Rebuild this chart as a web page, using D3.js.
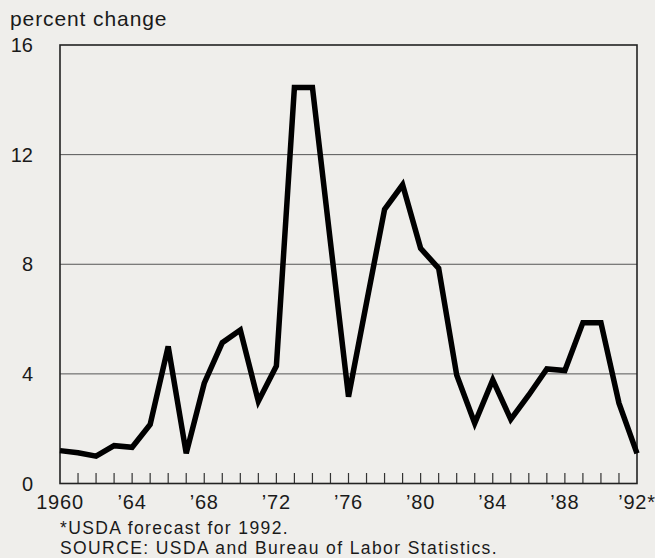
<!DOCTYPE html>
<html>
<head>
<meta charset="utf-8">
<script src="https://cdn.jsdelivr.net/npm/d3@7"></script>
<style>
  html, body { margin: 0; padding: 0; background: #efeeeb; }
  svg { display: block; }
  text { font-family: "Liberation Sans", Arial, Helvetica, sans-serif; fill: #1a1a1a; }
</style>
</head>
<body>
<svg id="chart" width="655" height="558"></svg>
<script>
const years = d3.range(1960, 1993);
const values = [1.2, 1.12, 1.0, 1.38, 1.32, 2.15, 5.0, 1.1, 3.66, 5.14, 5.6, 3.0, 4.29, 14.45, 14.45, 8.8, 3.17, 6.6, 10.0, 10.9, 8.58, 7.85, 3.96, 2.2, 3.78, 2.34, 3.23, 4.18, 4.12, 5.87, 5.87, 2.93, 1.1];
const yTicks = [0, 4, 8, 12, 16];
const xLabelYears = [1960, 1964, 1968, 1972, 1976, 1980, 1984, 1988, 1992];
const xLabels = ["1960", "\u201964", "\u201968", "\u201972", "\u201976", "\u201980", "\u201984", "\u201988", "\u201992*"];
const yTitle = "percent change";
const notes = ["*USDA forecast for 1992.", "SOURCE: USDA and Bureau of Labor Statistics."];

const svg = d3.select("#chart");
const mLeft = 60, mRight = 637, mTop = 45, mBottom = 483.5;
const x = d3.scaleLinear().domain([1960, 1992]).range([mLeft, mRight]);
const y = d3.scaleLinear().domain([0, 16]).range([mBottom, mTop]);

// gridlines
svg.append("g").selectAll("line").data(yTicks.filter(d => d > 0 && d < 16)).join("line")
  .attr("x1", mLeft).attr("x2", mRight)
  .attr("y1", d => y(d)).attr("y2", d => y(d))
  .attr("stroke", "#555").attr("stroke-width", 1);

// year ticks (inside, upward)
svg.append("g").selectAll("line").data(years.slice(1, -1)).join("line")
  .attr("x1", d => x(d)).attr("x2", d => x(d))
  .attr("y1", mBottom).attr("y2", mBottom - 10.5)
  .attr("stroke", "#333").attr("stroke-width", 1.2);

// frame
svg.append("rect").attr("x", mLeft).attr("y", mTop)
  .attr("width", mRight - mLeft).attr("height", mBottom - mTop)
  .attr("fill", "none").attr("stroke", "#222").attr("stroke-width", 1.6);

// y labels
svg.append("g").selectAll("text").data(yTicks).join("text")
  .attr("x", 33).attr("y", d => y(d)).attr("dy", "0.36em")
  .attr("text-anchor", "end").attr("font-size", 20)
  .text(d => d);

// x labels
svg.append("g").selectAll("text").data(xLabelYears).join("text")
  .attr("x", d => x(d)).attr("y", 509)
  .attr("text-anchor", "middle").attr("font-size", 20)
  .attr("letter-spacing", 0.8)
  .text((d, i) => xLabels[i]);

// y title
svg.append("text").attr("x", 10).attr("y", 26).attr("font-size", 21)
  .attr("letter-spacing", 0.9).text(yTitle);

// notes
svg.append("g").selectAll("text").data(notes).join("text")
  .attr("x", 60).attr("y", (d, i) => 533.5 + i * 20.5)
  .attr("font-size", 17.5).attr("letter-spacing", 1.4).text(d => d);

// line
const line = d3.line().x((d, i) => x(years[i])).y(d => y(d));
svg.append("path").datum(values)
  .attr("d", line).attr("fill", "none")
  .attr("stroke", "#000").attr("stroke-width", 5.5)
  .attr("stroke-linejoin", "miter").attr("stroke-miterlimit", 3);
</script>
</body>
</html>
